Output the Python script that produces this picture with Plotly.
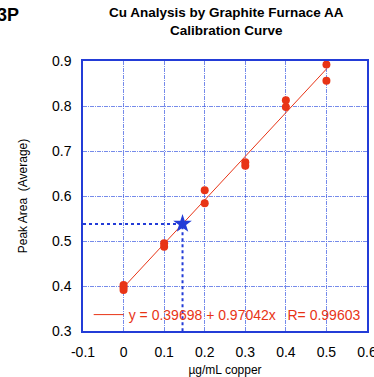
import plotly.graph_objects as go

conc = [0, 0, 0, 0.1, 0.1, 0.2, 0.2, 0.3, 0.3, 0.4, 0.4, 0.5, 0.5]
peak = [0.402, 0.397, 0.391, 0.495, 0.487, 0.613, 0.584, 0.675, 0.667, 0.813, 0.798, 0.892, 0.856]
intercept = 0.39698
slope = 0.97042
r_value = 0.99603
fit_x = [0, 0.5]
unknown_y = 0.538
unknown_x = (unknown_y - intercept) / slope

RED = "rgb(232,52,22)"
BLUE = "rgb(35,60,215)"
GRID = "rgba(60,90,225,0.7)"
FONT = "Liberation Sans, Arial"

fit_y = [intercept + slope * x for x in fit_x]

fig = go.Figure()
fig.add_trace(go.Scatter(x=fit_x, y=fit_y, mode="lines",
                         line=dict(color=RED, width=1),
                         name=f"y = {intercept:.5f} + {slope:.5f}x   R= {r_value:.5f}",
                         showlegend=True))
fig.add_trace(go.Scatter(x=conc, y=peak, mode="markers",
                         marker=dict(color=RED, size=8), showlegend=False))
fig.add_trace(go.Scatter(x=[-0.1, unknown_x, unknown_x], y=[unknown_y, unknown_y, 0.3],
                         mode="lines", line=dict(color=BLUE, width=2, dash="dot"),
                         showlegend=False))
fig.add_trace(go.Scatter(x=[unknown_x], y=[unknown_y], mode="markers",
                         marker=dict(symbol="star", color=BLUE, size=14),
                         showlegend=False))

axis_common = dict(showline=True, linecolor=BLUE, linewidth=1.5, mirror=True,
                   showgrid=True, gridcolor=GRID, gridwidth=1,
                   griddash="4px,1px,1px,1px", zeroline=False,
                   ticks="outside", ticklen=7, tickcolor="rgba(0,0,0,0)",
                   ticklabeloverflow="allow", automargin=False,
                   tickfont=dict(family=FONT, size=14, color="black"))

fig.update_xaxes(range=[-0.1, 0.6], tickvals=[-0.1, 0, 0.1, 0.2, 0.3, 0.4, 0.5, 0.6],
                 ticktext=["-0.1", "0", "0.1", "0.2", "0.3", "0.4", "0.5", "0.6"],
                 title=dict(text="µg/mL copper", font=dict(family=FONT, size=12, color="black"),
                            standoff=10),
                 **axis_common)
fig.update_yaxes(range=[0.3, 0.9], tickvals=[0.3, 0.4, 0.5, 0.6, 0.7, 0.8, 0.9],
                 ticktext=["0.3", "0.4", "0.5", "0.6", "0.7", "0.8", "0.9"],
                 title=dict(text="Peak Area  (Average)", font=dict(family=FONT, size=12, color="black"),
                            standoff=22),
                 **axis_common)

fig.update_layout(
    width=374, height=377,
    margin=dict(l=83, r=7, t=61, b=46),
    plot_bgcolor="white", paper_bgcolor="white",
    title=dict(text="<b>Cu Analysis by Graphite Furnace AA<br>Calibration Curve</b>",
               font=dict(family=FONT, size=13.5, color="black"),
               x=0.605, xanchor="center", y=0.955, yanchor="top"),
    legend=dict(x=0.02, y=0.0, xanchor="left", yanchor="bottom",
                bgcolor="rgba(0,0,0,0)", font=dict(family=FONT, size=14, color=RED),
                itemwidth=30, tracegroupgap=0),
    annotations=[dict(text="<b>3P</b>", xref="paper", yref="paper", x=-0.31, y=1.215,
                      xanchor="left", yanchor="top", showarrow=False,
                      font=dict(family=FONT, size=18, color="black"))],
)

fig.write_html("out.html")
